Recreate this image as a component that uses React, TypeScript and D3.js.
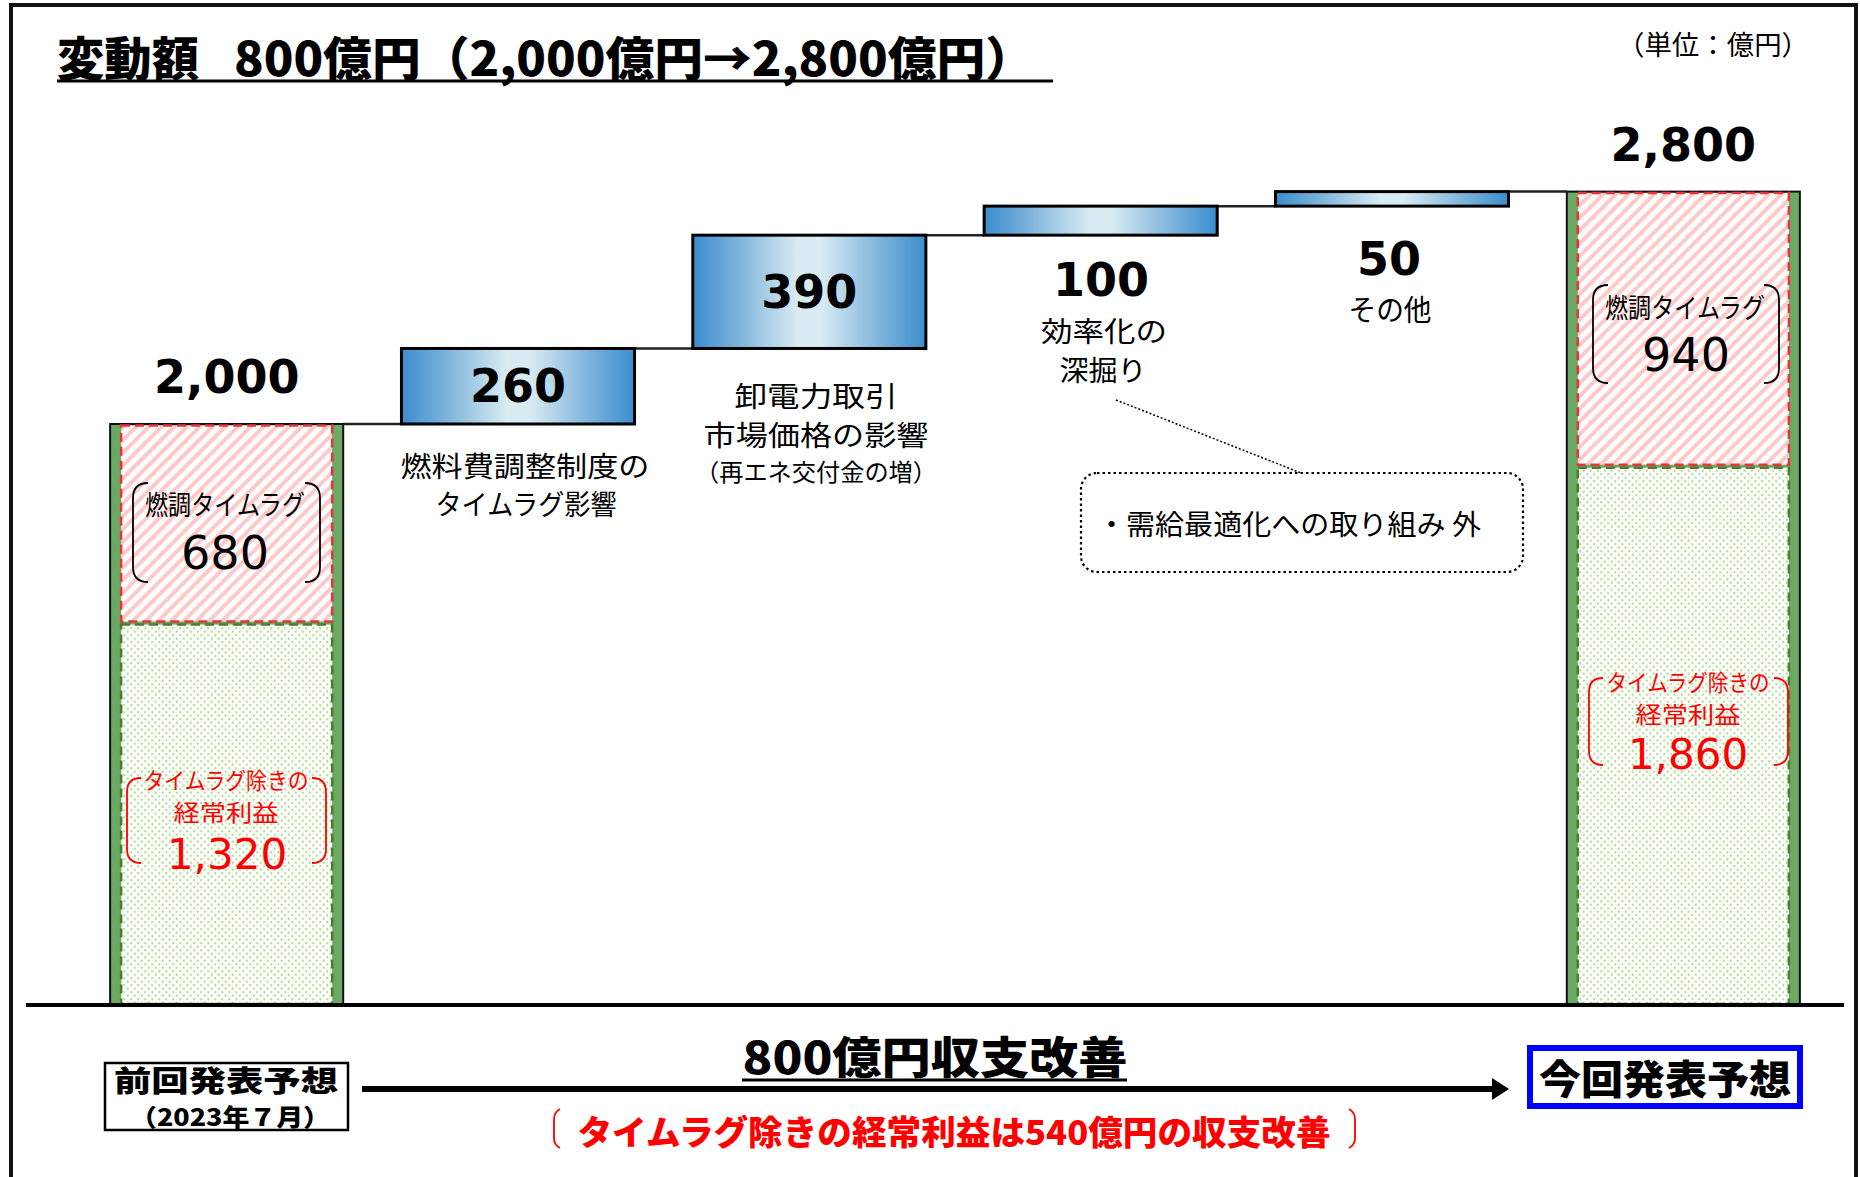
import React from 'react';
import * as d3 from 'd3';

const W = 1860;
const H = 1177;

// chart data
const categories = ['prev', 'fuel', 'market', 'efficiency', 'other', 'current'];
const totalValues = [2000, 2800];
const timeLagValues = [680, 940];
const exTimeLagValues = [1320, 1860];
const stepValues = [260, 390, 100, 50];
const stepLabelLines = [
  ['燃料費調整制度の', 'タイムラグ影響'],
  ['卸電力取引', '市場価格の影響', '（再エネ交付金の増）'],
  ['効率化の', '深掘り'],
  ['その他'],
];
const timeLagTitle = '燃調タイムラグ';
const exTimeLagTitle = ['タイムラグ除きの', '経常利益'];

const JP = '"Noto Sans CJK JP", "Noto Sans", sans-serif';
const NUM = '"DejaVu Sans", "Noto Sans", sans-serif';
const fmt = d3.format(',');

const T = ({ x, y, size, children, weight = 400, fill = '#000', family = JP, len, anchor = 'middle' }: any) => (
  <text
    x={x}
    y={y}
    fontSize={size}
    fontWeight={weight}
    fill={fill}
    fontFamily={family}
    textAnchor={anchor}
    dominantBaseline="central"
    textLength={len}
    lengthAdjust={len ? 'spacingAndGlyphs' : undefined}
  >
    {children}
  </text>
);

// rounded bracket pair around a label
const bracketPaths = (x0: number, x1: number, top: number, bottom: number, r: number) => [
  `M${x0 + r},${top} Q${x0},${top} ${x0},${top + r} L${x0},${bottom - r} Q${x0},${bottom} ${x0 + r},${bottom}`,
  `M${x1 - r},${top} Q${x1},${top} ${x1},${top + r} L${x1},${bottom - r} Q${x1},${bottom} ${x1 - r},${bottom}`,
];

const Brackets = ({ x0, x1, top, bottom, color = '#000', r = 15 }: any) => (
  <g fill="none" stroke={color} strokeWidth={1.8}>
    {bracketPaths(x0, x1, top, bottom, r).map((d, i) => (
      <path key={i} d={d} />
    ))}
  </g>
);

export default function App() {
  const x = d3
    .scaleBand<string>()
    .domain(categories)
    .range([81, 1829])
    .paddingInner(0.2)
    .paddingOuter(0.1);
  const y = d3.scaleLinear().domain([0, 2800]).range([1005, 191.6]);
  const bw = x.bandwidth();

  let acc = totalValues[0];
  const steps = stepValues.map((v, i) => {
    const s = { cat: categories[i + 1], from: acc, to: acc + v, v };
    acc += v;
    return s;
  });

  // connector levels between neighbouring bars
  const levels = [totalValues[0], ...steps.map((s) => s.to)];

  const totals = [categories[0], categories[5]].map((cat, i) => ({
    cat,
    total: totalValues[i],
    lag: timeLagValues[i],
    ex: exTimeLagValues[i],
  }));

  const strip = 11;

  return (
    <svg width={W} height={H} style={{ position: 'absolute', left: 0, top: 0, background: '#fff' }}>
      <defs>
        <linearGradient id="stepGrad" x1="0" x2="1" y1="0" y2="0">
          <stop offset="0" stopColor="#3a8dcf" />
          <stop offset="0.2" stopColor="#7fb4dc" />
          <stop offset="0.45" stopColor="#d8ebf2" />
          <stop offset="0.55" stopColor="#d8ebf2" />
          <stop offset="0.8" stopColor="#7fb4dc" />
          <stop offset="1" stopColor="#3a8dcf" />
        </linearGradient>
        <pattern id="hatch" patternUnits="userSpaceOnUse" width={9} height={9} patternTransform="rotate(45)">
          <rect width={9} height={9} fill="#fff" />
          <rect width={4} height={9} fill="#ffc9c9" />
        </pattern>
        <pattern id="dots" patternUnits="userSpaceOnUse" width={7} height={7}>
          <rect width={7} height={7} fill="#fbfdf8" />
          <circle cx={1.75} cy={1.75} r={1.15} fill="#b8daa0" />
          <circle cx={5.25} cy={5.25} r={1.15} fill="#b8daa0" />
        </pattern>
      </defs>

      {/* frame */}
      <rect x={11} y={5} width={1845} height={1200} fill="none" stroke="#111" strokeWidth={4} />

      {/* title */}
      <T x={57} y={55} size={47} weight={900} anchor="start" len={142}>変動額</T>
      <T x={234} y={55} size={47} weight={900} anchor="start" len={800}>
        800億円（2,000億円→2,800億円）
      </T>
      <line x1={57} x2={1053} y1={81} y2={81} stroke="#000" strokeWidth={3} />
      <T x={1713} y={43} size={27} len={192}>
        （単位：億円）
      </T>

      {/* connectors */}
      {levels.map((lv, i) => (
        <line
          key={i}
          x1={x(categories[i])! + bw}
          x2={x(categories[i + 1])!}
          y1={y(lv)}
          y2={y(lv)}
          stroke="#222"
          strokeWidth={2.5}
        />
      ))}

      {/* total bars */}
      {totals.map((t) => {
        const bx = x(t.cat)!;
        return (
          <g key={t.cat}>
            <rect x={bx} y={y(t.total)} width={bw} height={y(0) - y(t.total)} fill="#6aaa64" stroke="#111" strokeWidth={2} />
            <rect
              x={bx + strip}
              y={y(t.total) + 1.5}
              width={bw - strip * 2}
              height={y(t.ex) - y(t.total) - 1.5}
              fill="url(#hatch)"
              stroke="#e8323c"
              strokeWidth={2.5}
              strokeDasharray="9 5"
            />
            <rect
              x={bx + strip}
              y={y(t.ex) + 3}
              width={bw - strip * 2}
              height={y(0) - y(t.ex) - 4}
              fill="url(#dots)"
              stroke="#4d7d2c"
              strokeWidth={2.5}
              strokeDasharray="9 5"
            />
            <T x={bx + bw / 2} y={y(t.total) - 47} size={46} weight={700} family={NUM}>
              {fmt(t.total)}
            </T>
          </g>
        );
      })}

      {/* left total labels */}
      <T x={225} y={503} size={27} len={160}>{timeLagTitle}</T>
      <T x={225} y={553} size={46} family={NUM}>{fmt(timeLagValues[0])}</T>
      <Brackets x0={133} x1={320} top={483} bottom={582} />
      <T x={226} y={779} size={23} fill="#ff0000" len={165}>{exTimeLagTitle[0]}</T>
      <T x={226} y={811} size={23} fill="#ff0000" len={105}>{exTimeLagTitle[1]}</T>
      <T x={227} y={854} size={42} fill="#ff0000" family={NUM}>{fmt(exTimeLagValues[0])}</T>
      <Brackets x0={127} x1={326} top={778} bottom={863} color="#ff0000" r={14} />

      {/* right total labels */}
      <T x={1685} y={306} size={27} len={160}>{timeLagTitle}</T>
      <T x={1686} y={355} size={46} family={NUM}>{fmt(timeLagValues[1])}</T>
      <Brackets x0={1593} x1={1779} top={285} bottom={383} />
      <T x={1688} y={681} size={23} fill="#ff0000" len={163}>{exTimeLagTitle[0]}</T>
      <T x={1688} y={713} size={23} fill="#ff0000" len={105}>{exTimeLagTitle[1]}</T>
      <T x={1688} y={754} size={42} fill="#ff0000" family={NUM}>{fmt(exTimeLagValues[1])}</T>
      <Brackets x0={1589} x1={1788} top={678} bottom={765} color="#ff0000" r={14} />

      {/* step bars */}
      {steps.map((s) => (
        <rect
          key={s.cat}
          x={x(s.cat)!}
          y={y(s.to)}
          width={bw}
          height={y(s.from) - y(s.to)}
          fill="url(#stepGrad)"
          stroke="#000"
          strokeWidth={3}
        />
      ))}

      {/* step 260 */}
      <T x={x(steps[0].cat)! + bw / 2} y={(y(steps[0].from) + y(steps[0].to)) / 2} size={46} weight={700} family={NUM}>
        {steps[0].v}
      </T>
      <T x={525} y={y(steps[0].from) + 41} size={28} len={249}>{stepLabelLines[0][0]}</T>
      <T x={526} y={y(steps[0].from) + 79} size={28} len={181}>{stepLabelLines[0][1]}</T>

      {/* step 390 */}
      <T x={x(steps[1].cat)! + bw / 2} y={(y(steps[1].from) + y(steps[1].to)) / 2} size={46} weight={700} family={NUM}>
        {steps[1].v}
      </T>
      <T x={816} y={y(steps[1].from) + 47} size={28} len={163}>{stepLabelLines[1][0]}</T>
      <T x={816} y={y(steps[1].from) + 86} size={28} len={225}>{stepLabelLines[1][1]}</T>
      <T x={816} y={y(steps[1].from) + 122} size={24} len={242}>{stepLabelLines[1][2]}</T>

      {/* step 100 */}
      <T x={1101} y={y(steps[2].from) + 45} size={46} weight={700} family={NUM}>{steps[2].v}</T>
      <T x={1104} y={y(steps[2].from) + 95} size={28} len={126}>{stepLabelLines[2][0]}</T>
      <T x={1103} y={y(steps[2].from) + 134} size={28} len={87}>{stepLabelLines[2][1]}</T>

      {/* step 50 */}
      <T x={1389} y={y(steps[3].from) + 53} size={46} weight={700} family={NUM}>{steps[3].v}</T>
      <T x={1390} y={y(steps[3].from) + 102} size={29} len={83}>{stepLabelLines[3][0]}</T>

      {/* callout */}
      <line x1={1116} y1={400} x2={1301} y2={473} stroke="#000" strokeWidth={1.5} strokeDasharray="2 2" />
      <rect x={1081} y={473} width={442} height={99} rx={16} fill="#fff" stroke="#000" strokeWidth={2.2} strokeDasharray="2.5 3" />
      <T x={1097} y={523} size={28} anchor="start" len={384}>・需給最適化への取り組み 外</T>

      {/* baseline */}
      <line x1={26} x2={1844} y1={y(0)} y2={y(0)} stroke="#000" strokeWidth={4} />

      {/* bottom: previous forecast box */}
      <rect x={105} y={1063} width={243} height={67} fill="#fff" stroke="#000" strokeWidth={2.5} />
      <T x={226} y={1079} size={29} weight={900} len={224}>前回発表予想</T>
      <T x={230} y={1115} size={24} weight={900} len={200}>（2023年７月）</T>

      {/* arrow */}
      <line x1={362} x2={1494} y1={1089} y2={1089} stroke="#000" strokeWidth={6} />
      <path d="M1492,1078 L1509,1089 L1492,1100 Z" fill="#000" />

      <T x={935} y={1055} size={44} weight={900} len={385}>800億円収支改善</T>
      <line x1={742} x2={1127} y1={1080} y2={1080} stroke="#000" strokeWidth={3} />

      {/* red note */}
      <path d="M560,1109 Q554,1112 554,1120 L554,1138 Q554,1145 560,1148" fill="none" stroke="#ff0000" strokeWidth={1.8} />
      <path d="M1349,1109 Q1355,1112 1355,1120 L1355,1138 Q1355,1145 1349,1148" fill="none" stroke="#ff0000" strokeWidth={1.8} />
      <T x={954} y={1130} size={34} weight={900} fill="#ff0000" len={753}>
        タイムラグ除きの経常利益は540億円の収支改善
      </T>

      {/* current forecast box */}
      <rect x={1530} y={1048} width={270} height={58} fill="#fff" stroke="#0000ff" strokeWidth={6} />
      <T x={1665} y={1077} size={40} weight={900} len={252}>今回発表予想</T>
    </svg>
  );
}
